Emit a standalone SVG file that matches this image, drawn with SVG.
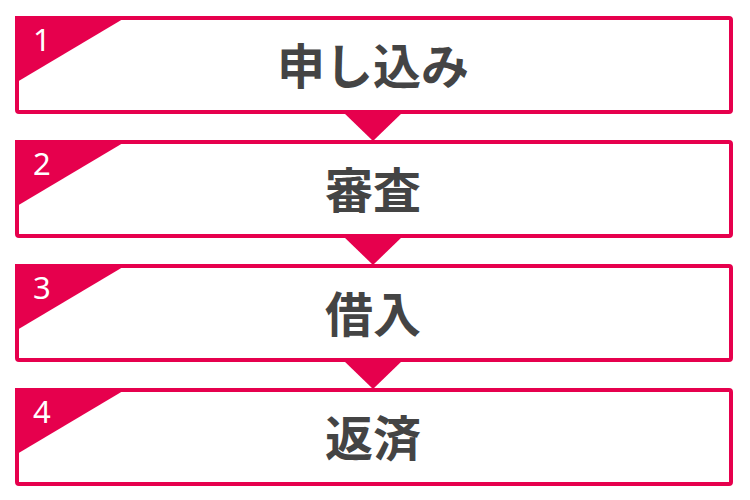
<svg xmlns="http://www.w3.org/2000/svg" width="750" height="500" viewBox="0 0 750 500">
<style>
.box{fill:#fff;stroke:#e6004d;stroke-width:4}
.tri{fill:#e6004d}
.num{font-family:"Noto Sans","Liberation Sans",sans-serif;font-size:31px;fill:#fff}
.lbl{font-family:"Noto Sans CJK JP","Noto Sans",sans-serif;font-size:48px;font-weight:bold;fill:#444;text-anchor:middle;dominant-baseline:central}
</style>
<g id="connectors">
<polygon class="tri" points="343,112 403,112 373,141"/>
<polygon class="tri" points="343,236 403,236 373,265"/>
<polygon class="tri" points="343,360 403,360 373,389"/>
</g>
<g id="step1">
<rect class="box" x="17" y="18" width="714" height="94" rx="2"/>
<polygon class="tri" points="15,16 128,16 17,82 15,82"/>
<text class="num" x="33" y="51">1</text>
<text class="lbl" x="373" y="63">申し込み</text>
</g>
<g id="step2">
<rect class="box" x="17" y="142" width="714" height="94" rx="2"/>
<polygon class="tri" points="15,140 128,140 17,206 15,206"/>
<text class="num" x="33" y="175">2</text>
<text class="lbl" x="373" y="187">審査</text>
</g>
<g id="step3">
<rect class="box" x="17" y="266" width="714" height="94" rx="2"/>
<polygon class="tri" points="15,264 128,264 17,330 15,330"/>
<text class="num" x="33" y="299">3</text>
<text class="lbl" x="373" y="311">借入</text>
</g>
<g id="step4">
<rect class="box" x="17" y="390" width="714" height="94" rx="2"/>
<polygon class="tri" points="15,388 128,388 17,454 15,454"/>
<text class="num" x="33" y="423">4</text>
<text class="lbl" x="373" y="435">返済</text>
</g>
</svg>
